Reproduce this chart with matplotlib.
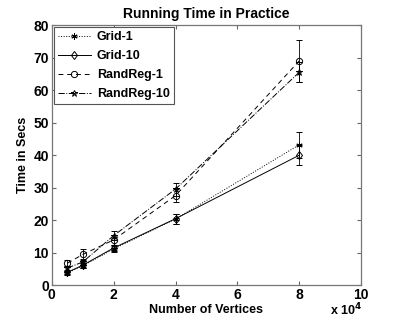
import matplotlib.pyplot as plt

# Vertices (x 10^4)
n_vertices = [0.5, 1, 2, 4, 8]

grid_1 = [3.8, 6.0, 11.2, 20.4, 43.2]
grid_1_err = [0.6, 0.8, 1.0, 1.5, 4.0]
grid_10 = [4.0, 6.2, 11.5, 20.5, 40.0]
grid_10_err = [0.6, 0.8, 1.0, 1.5, 3.0]
randreg_1 = [6.8, 9.5, 14.0, 27.6, 69.0]
randreg_1_err = [1.0, 1.8, 1.5, 2.0, 6.4]
randreg_10 = [5.3, 7.2, 15.3, 29.6, 65.5]
randreg_10_err = [0.8, 1.0, 1.5, 2.0, 3.0]

plt.rcParams['font.family'] = ['Liberation Sans', 'DejaVu Sans']
plt.rcParams['font.weight'] = 'bold'

fig = plt.figure(figsize=(3.99, 3.21), dpi=100)
ax = fig.add_axes([0.130, 0.111, 0.775, 0.811])

asterisk = (6, 2, 0)
common = dict(color='black', lw=0.7, capsize=2.5, elinewidth=0.6, capthick=0.6,
              markersize=4.5, markerfacecolor='none', markeredgewidth=0.7)

c1 = ax.errorbar(n_vertices, grid_1, yerr=grid_1_err, ls=':', marker=asterisk,
                 label='Grid-1', **common)
c2 = ax.errorbar(n_vertices, grid_10, yerr=grid_10_err, ls='-', marker='d',
                 label='Grid-10', **common)
c3 = ax.errorbar(n_vertices, randreg_1, yerr=randreg_1_err, ls=(0, (5, 4)), marker='o',
                 label='RandReg-1', **common)
c4 = ax.errorbar(n_vertices, randreg_10, yerr=randreg_10_err, ls='-.', marker='*',
                 label='RandReg-10', **common)

ax.set_xlim(0, 10)
ax.set_ylim(0, 80)
ax.set_xticks([0, 2, 4, 6, 8, 10])
ax.set_yticks(range(0, 81, 10))
ax.tick_params(direction='in', top=True, right=True, labelsize=10, length=3,
               color='#666666', pad=2)
for s in ax.spines.values():
    s.set_color('#777777')
    s.set_linewidth(0.9)

ax.set_title('Running Time in Practice', fontsize=10, fontweight='bold', pad=5)
ax.set_xlabel('Number of Vertices', fontsize=9, fontweight='bold', labelpad=1)
ax.set_ylabel('Time in Secs', fontsize=9, fontweight='bold', labelpad=3)
fig.text(0.908, 0.008, r'x 10$^{\mathbf{4}}$', fontsize=9,
         fontweight='bold', ha='right', va='bottom')

leg = ax.legend(handles=[c[0] for c in (c1, c2, c3, c4)],
                labels=['Grid-1', 'Grid-10', 'RandReg-1', 'RandReg-10'],
                loc='upper left', fontsize=9, frameon=True, fancybox=False,
                borderaxespad=0.15, handlelength=2.6, labelspacing=0.55,
                borderpad=0.35, handletextpad=0.5)
leg.get_frame().set_edgecolor('#555555')
leg.get_frame().set_linewidth(0.8)
leg.get_frame().set_alpha(1)

fig.savefig('out.png', dpi=100)
